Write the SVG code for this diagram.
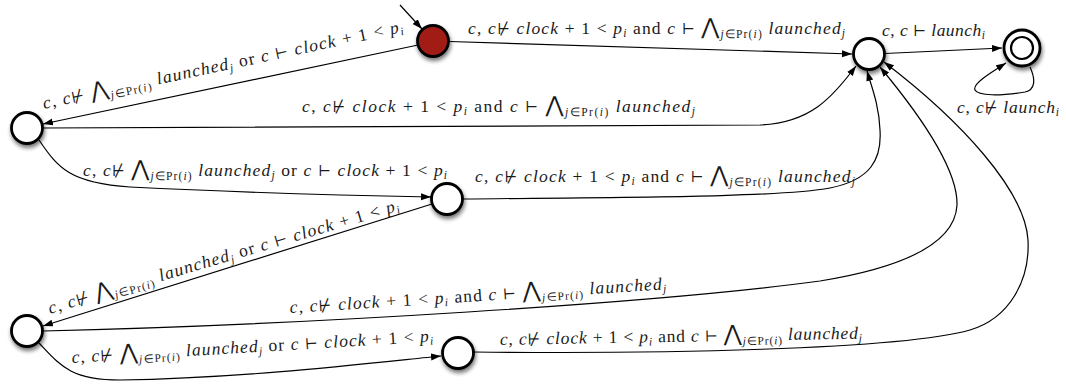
<svg xmlns="http://www.w3.org/2000/svg" width="1066" height="385" viewBox="0 0 1066 385">
<style>
.e{fill:none;stroke:#000;stroke-width:1.2;marker-end:url(#ah)}
.n{fill:#fff;stroke:#000;stroke-width:2.8;filter:url(#sh)}
.r{fill:#a21c19}
.m{font-family:"Liberation Serif","Times New Roman",serif;font-size:17.5px;fill:#1a1a1a}
.i{font-style:italic}
.s{font-size:11.5px}
.b{font-size:22px;font-family:"DejaVu Serif","DejaVu Sans",serif}
.sy{font-family:"DejaVu Serif","DejaVu Sans",serif;font-size:15px}
</style>
<defs>
<marker id="ah" markerUnits="userSpaceOnUse" markerWidth="11" markerHeight="8" refX="10" refY="3.5" orient="auto">
<path d="M0,0 L10,3.5 L0,7 z" fill="#000"/>
</marker>
<filter id="sh" x="-60%" y="-60%" width="220%" height="220%">
<feGaussianBlur in="SourceAlpha" stdDeviation="2.2"/>
<feOffset dx="1" dy="3" result="o"/>
<feComponentTransfer><feFuncA type="linear" slope="0.55"/></feComponentTransfer>
<feMerge><feMergeNode/><feMergeNode in="SourceGraphic"/></feMerge>
</filter>
</defs>

<g id="connectors">
<path class="e" d="M400,5 L422,29"/>
<path class="e" d="M449,41.5 L852,54"/>
<path class="e" d="M418,45 L43,124"/>
<path class="e" d="M43,128 L760,125 C810,123 832,98 856,66"/>
<path class="e" d="M39,140 C58,168 70,183 130,187 C250,193 380,196 431,197"/>
<path class="e" d="M463,199 C650,197 780,197 830,188 C870,180 882,160 880,130 C879,105 872,88 867,71"/>
<path class="e" d="M432,204 L43,326"/>
<path class="e" d="M43,331 C300,325 660,303 820,281 C900,268 955,245 957,205 C958,170 920,115 880,67"/>
<path class="e" d="M39,343 C60,365 70,380 120,380 C250,378 380,362 441,356"/>
<path class="e" d="M474,352 C650,354 900,350 970,330 C1010,318 1030,280 1028,240 C1025,190 960,120 884,62"/>
<path class="e" d="M885,53.5 L1002,48"/>
<path class="e" d="M1030,67 C1036,80 1035,90 1025,92 C1000,96 978,96 975,90 C972,84 990,73 1006,63"/>
</g>

<g id="labels">
<text class="m" x="468" y="34" textLength="377" lengthAdjust="spacing"><tspan class="i">c</tspan>, <tspan class="i">c</tspan><tspan class="sy">⊬</tspan> <tspan class="i">clock</tspan> + 1 &lt; <tspan class="i">p</tspan><tspan class="s i" dy="3">i</tspan><tspan dy="-3"> and </tspan><tspan class="i">c</tspan> <tspan class="sy">⊢</tspan> <tspan class="b">⋀</tspan><tspan class="s" dy="4"><tspan class="i">j</tspan>∈Pr(<tspan class="i">i</tspan>)</tspan><tspan class="i" dy="-4">  launched</tspan><tspan class="s i" dy="3">j</tspan></text>

<text class="m" transform="translate(44,109) rotate(-12.1)" x="0" y="0" textLength="368" lengthAdjust="spacing"><tspan class="i">c</tspan>, <tspan class="i">c</tspan><tspan class="sy">⊬</tspan> <tspan class="b">⋀</tspan><tspan class="s" dy="4"><tspan class="i">j</tspan>∈Pr(<tspan class="i">i</tspan>)</tspan><tspan class="i" dy="-4">  launched</tspan><tspan class="s i" dy="3">j</tspan><tspan dy="-3"> or </tspan><tspan class="i">c</tspan> <tspan class="sy">⊢</tspan> <tspan class="i">clock</tspan> + 1 &lt; <tspan class="i">p</tspan><tspan class="s i" dy="3">i</tspan></text>

<text class="m" x="302" y="112" textLength="393" lengthAdjust="spacing"><tspan class="i">c</tspan>, <tspan class="i">c</tspan><tspan class="sy">⊬</tspan> <tspan class="i">clock</tspan> + 1 &lt; <tspan class="i">p</tspan><tspan class="s i" dy="3">i</tspan><tspan dy="-3"> and </tspan><tspan class="i">c</tspan> <tspan class="sy">⊢</tspan> <tspan class="b">⋀</tspan><tspan class="s" dy="4"><tspan class="i">j</tspan>∈Pr(<tspan class="i">i</tspan>)</tspan><tspan class="i" dy="-4">  launched</tspan><tspan class="s i" dy="3">j</tspan></text>

<text class="m" x="83" y="176" textLength="364" lengthAdjust="spacing"><tspan class="i">c</tspan>, <tspan class="i">c</tspan><tspan class="sy">⊬</tspan> <tspan class="b">⋀</tspan><tspan class="s" dy="4"><tspan class="i">j</tspan>∈Pr(<tspan class="i">i</tspan>)</tspan><tspan class="i" dy="-4">  launched</tspan><tspan class="s i" dy="3">j</tspan><tspan dy="-3"> or </tspan><tspan class="i">c</tspan> <tspan class="sy">⊢</tspan> <tspan class="i">clock</tspan> + 1 &lt; <tspan class="i">p</tspan><tspan class="s i" dy="3">i</tspan></text>

<text class="m" x="475" y="182" textLength="380" lengthAdjust="spacing"><tspan class="i">c</tspan>, <tspan class="i">c</tspan><tspan class="sy">⊬</tspan> <tspan class="i">clock</tspan> + 1 &lt; <tspan class="i">p</tspan><tspan class="s i" dy="3">i</tspan><tspan dy="-3"> and </tspan><tspan class="i">c</tspan> <tspan class="sy">⊢</tspan> <tspan class="b">⋀</tspan><tspan class="s" dy="4"><tspan class="i">j</tspan>∈Pr(<tspan class="i">i</tspan>)</tspan><tspan class="i" dy="-4">  launched</tspan><tspan class="s i" dy="3">j</tspan></text>

<text class="m" transform="translate(50,314) rotate(-16.5)" x="0" y="0" textLength="365" lengthAdjust="spacing"><tspan class="i">c</tspan>, <tspan class="i">c</tspan><tspan class="sy">⊬</tspan> <tspan class="b">⋀</tspan><tspan class="s" dy="4"><tspan class="i">j</tspan>∈Pr(<tspan class="i">i</tspan>)</tspan><tspan class="i" dy="-4">  launched</tspan><tspan class="s i" dy="3">j</tspan><tspan dy="-3"> or </tspan><tspan class="i">c</tspan> <tspan class="sy">⊢</tspan> <tspan class="i">clock</tspan> + 1 &lt; <tspan class="i">p</tspan><tspan class="s i" dy="3">i</tspan></text>

<text class="m" transform="translate(290,313) rotate(-3.6)" x="0" y="0" textLength="377" lengthAdjust="spacing"><tspan class="i">c</tspan>, <tspan class="i">c</tspan><tspan class="sy">⊬</tspan> <tspan class="i">clock</tspan> + 1 &lt; <tspan class="i">p</tspan><tspan class="s i" dy="3">i</tspan><tspan dy="-3"> and </tspan><tspan class="i">c</tspan> <tspan class="sy">⊢</tspan> <tspan class="b">⋀</tspan><tspan class="s" dy="4"><tspan class="i">j</tspan>∈Pr(<tspan class="i">i</tspan>)</tspan><tspan class="i" dy="-4">  launched</tspan><tspan class="s i" dy="3">j</tspan></text>

<text class="m" transform="translate(72,363) rotate(-3.4)" x="0" y="0" textLength="362" lengthAdjust="spacing"><tspan class="i">c</tspan>, <tspan class="i">c</tspan><tspan class="sy">⊬</tspan> <tspan class="b">⋀</tspan><tspan class="s" dy="4"><tspan class="i">j</tspan>∈Pr(<tspan class="i">i</tspan>)</tspan><tspan class="i" dy="-4">  launched</tspan><tspan class="s i" dy="3">j</tspan><tspan dy="-3"> or </tspan><tspan class="i">c</tspan> <tspan class="sy">⊢</tspan> <tspan class="i">clock</tspan> + 1 &lt; <tspan class="i">p</tspan><tspan class="s i" dy="3">i</tspan></text>

<text class="m" transform="translate(500,345) rotate(-1)" x="0" y="0" textLength="362" lengthAdjust="spacing"><tspan class="i">c</tspan>, <tspan class="i">c</tspan><tspan class="sy">⊬</tspan> <tspan class="i">clock</tspan> + 1 &lt; <tspan class="i">p</tspan><tspan class="s i" dy="3">i</tspan><tspan dy="-3"> and </tspan><tspan class="i">c</tspan> <tspan class="sy">⊢</tspan> <tspan class="b">⋀</tspan><tspan class="s" dy="4"><tspan class="i">j</tspan>∈Pr(<tspan class="i">i</tspan>)</tspan><tspan class="i" dy="-4">  launched</tspan><tspan class="s i" dy="3">j</tspan></text>

<text class="m" x="882" y="36" textLength="103" lengthAdjust="spacing"><tspan class="i">c</tspan>, <tspan class="i">c</tspan> <tspan class="sy">⊢</tspan> <tspan class="i">launch</tspan><tspan class="s i" dy="3">i</tspan></text>
<text class="m" x="957" y="113" textLength="102" lengthAdjust="spacing"><tspan class="i">c</tspan>, <tspan class="i">c</tspan><tspan class="sy">⊬</tspan> <tspan class="i">launch</tspan><tspan class="s i" dy="3">i</tspan></text>
</g>

<g id="n0"><circle class="n r" cx="433" cy="41" r="15.5"/></g>
<g id="nA"><circle class="n" cx="27" cy="128" r="15.5"/></g>
<g id="nB"><circle class="n" cx="447" cy="199" r="15.5"/></g>
<g id="nC"><circle class="n" cx="27" cy="331" r="15.5"/></g>
<g id="nD"><circle class="n" cx="458" cy="353" r="15.5"/></g>
<g id="nH"><circle class="n" cx="869" cy="54" r="15.5"/></g>
<g id="nF"><circle class="n" cx="1022" cy="48" r="18"/><circle cx="1022" cy="48" r="11" fill="none" stroke="#000" stroke-width="2.2"/></g>
</svg>
